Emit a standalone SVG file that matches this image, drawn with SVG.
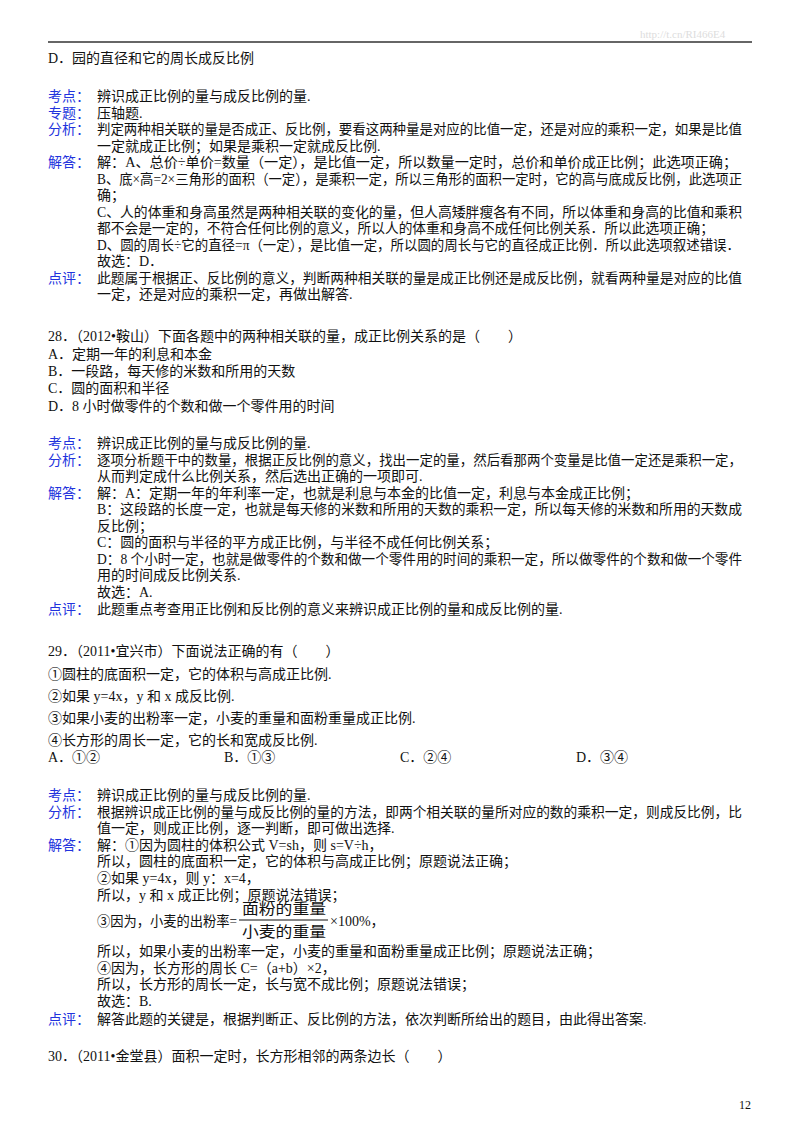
<svg xmlns="http://www.w3.org/2000/svg" width="800" height="1132" viewBox="0 0 800 1132">
<style>
text{font-family:"Liberation Serif","Noto Sans CJK SC",serif;font-size:14px;fill:#111}
.l{fill:#2233dd}
.wm{fill:#ddd;font-size:11px}
</style>
<rect width="800" height="1132" fill="#fff"/>
<text class="wm" x="640" y="38">http://t.cn/RI466E4</text>
<line x1="48" y1="42" x2="752" y2="42" stroke="#333" stroke-width="1.5"/>
<g id="q27">
<text x="48" y="63">D．园的直径和它的周长成反比例</text>
<text class="l" x="48" y="101">考点：</text><text x="97" y="101">辨识成正比例的量与成反比例的量.</text>
<text class="l" x="48" y="118">专题：</text><text x="97" y="118">压轴题.</text>
<text class="l" x="48" y="134">分析：</text><text x="97" y="134" textLength="645" lengthAdjust="spacingAndGlyphs">判定两种相关联的量是否成正、反比例，要看这两种量是对应的比值一定，还是对应的乘积一定，如果是比值</text>
<text x="97" y="151">一定就成正比例；如果是乘积一定就成反比例.</text>
<text class="l" x="48" y="167">解答：</text><text x="97" y="167" textLength="640" lengthAdjust="spacingAndGlyphs">解：A、总价÷单价=数量（一定），是比值一定，所以数量一定时，总价和单价成正比例；此选项正确；</text>
<text x="97" y="184" textLength="645" lengthAdjust="spacingAndGlyphs">B、底×高=2×三角形的面积（一定），是乘积一定，所以三角形的面积一定时，它的高与底成反比例，此选项正</text>
<text x="97" y="200">确；</text>
<text x="97" y="217" textLength="645" lengthAdjust="spacingAndGlyphs">C、人的体重和身高虽然是两种相关联的变化的量，但人高矮胖瘦各有不同，所以体重和身高的比值和乘积</text>
<text x="97" y="233" textLength="617" lengthAdjust="spacingAndGlyphs">都不会是一定的，不符合任何比例的意义，所以人的体重和身高不成任何比例关系．所以此选项正确；</text>
<text x="97" y="250" textLength="643" lengthAdjust="spacingAndGlyphs">D、圆的周长÷它的直径=π（一定），是比值一定，所以圆的周长与它的直径成正比例．所以此选项叙述错误．</text>
<text x="97" y="266">故选：D．</text>
<text class="l" x="48" y="283">点评：</text><text x="97" y="283" textLength="645" lengthAdjust="spacingAndGlyphs">此题属于根据正、反比例的意义，判断两种相关联的量是成正比例还是成反比例，就看两种量是对应的比值</text>
<text x="97" y="299">一定，还是对应的乘积一定，再做出解答.</text>
</g>
<g id="q28">
<text x="48" y="341">28．（2012•鞍山）下面各题中的两种相关联的量，成正比例关系的是（　　）</text>
<text x="48" y="359">A．定期一年的利息和本金</text>
<text x="48" y="376">B．一段路，每天修的米数和所用的天数</text>
<text x="48" y="393">C．圆的面积和半径</text>
<text x="48" y="411">D．8 小时做零件的个数和做一个零件用的时间</text>
<text class="l" x="48" y="448">考点：</text><text x="97" y="448">辨识成正比例的量与成反比例的量.</text>
<text class="l" x="48" y="465">分析：</text><text x="97" y="465" textLength="645" lengthAdjust="spacingAndGlyphs">逐项分析题干中的数量，根据正反比例的意义，找出一定的量，然后看那两个变量是比值一定还是乘积一定，</text>
<text x="97" y="481">从而判定成什么比例关系，然后选出正确的一项即可.</text>
<text class="l" x="48" y="498">解答：</text><text x="97" y="498">解：A：定期一年的年利率一定，也就是利息与本金的比值一定，利息与本金成正比例；</text>
<text x="97" y="514" textLength="645" lengthAdjust="spacingAndGlyphs">B：这段路的长度一定，也就是每天修的米数和所用的天数的乘积一定，所以每天修的米数和所用的天数成</text>
<text x="97" y="531">反比例；</text>
<text x="97" y="547">C：圆的面积与半径的平方成正比例，与半径不成任何比例关系；</text>
<text x="97" y="564" textLength="645" lengthAdjust="spacingAndGlyphs">D：8 个小时一定，也就是做零件的个数和做一个零件用的时间的乘积一定，所以做零件的个数和做一个零件</text>
<text x="97" y="580">用的时间成反比例关系.</text>
<text x="97" y="597">故选：A.</text>
<text class="l" x="48" y="614">点评：</text><text x="97" y="614">此题重点考查用正比例和反比例的意义来辨识成正比例的量和成反比例的量.</text>
</g>
<g id="q29">
<text x="48" y="656">29．（2011•宜兴市）下面说法正确的有（　　）</text>
<text x="48" y="679">①圆柱的底面积一定，它的体积与高成正比例.</text>
<text x="48" y="701">②如果 y=4x，y 和 x 成反比例.</text>
<text x="48" y="723">③如果小麦的出粉率一定，小麦的重量和面粉重量成正比例.</text>
<text x="48" y="745">④长方形的周长一定，它的长和宽成反比例.</text>
<text x="48" y="762">A．①②</text><text x="224" y="762">B．①③</text><text x="400" y="762">C．②④</text><text x="576" y="762">D．③④</text>
<text class="l" x="48" y="800">考点：</text><text x="97" y="800">辨识成正比例的量与成反比例的量.</text>
<text class="l" x="48" y="817">分析：</text><text x="97" y="817" textLength="645" lengthAdjust="spacingAndGlyphs">根据辨识成正比例的量与成反比例的量的方法，即两个相关联的量所对应的数的乘积一定，则成反比例，比</text>
<text x="97" y="833">值一定，则成正比例，逐一判断，即可做出选择.</text>
<text class="l" x="48" y="850">解答：</text><text x="97" y="850">解：①因为圆柱的体积公式 V=sh，则 s=V÷h，</text>
<text x="97" y="866">所以，圆柱的底面积一定，它的体积与高成正比例；原题说法正确；</text>
<text x="97" y="883">②如果 y=4x，则 y：x=4，</text>
<text x="97" y="900">所以，y 和 x 成正比例；原题说法错误；</text>
<text x="97" y="926" textLength="140" lengthAdjust="spacingAndGlyphs">③因为，小麦的出粉率=</text>
<text x="242" y="914" style="font-size:15px" textLength="84" lengthAdjust="spacingAndGlyphs">面粉的重量</text>
<line x1="239" y1="920" x2="328" y2="920" stroke="#111" stroke-width="1"/>
<text x="242" y="937" style="font-size:15px" textLength="84" lengthAdjust="spacingAndGlyphs">小麦的重量</text>
<text x="330" y="926">×100%，</text>
<text x="97" y="956">所以，如果小麦的出粉率一定，小麦的重量和面粉重量成正比例；原题说法正确；</text>
<text x="97" y="973">④因为，长方形的周长 C=（a+b）×2，</text>
<text x="97" y="989">所以，长方形的周长一定，长与宽不成比例；原题说法错误；</text>
<text x="97" y="1006">故选：B.</text>
<text class="l" x="48" y="1024">点评：</text><text x="97" y="1024">解答此题的关键是，根据判断正、反比例的方法，依次判断所给出的题目，由此得出答案.</text>
</g>
<g id="q30">
<text x="48" y="1061">30．（2011•金堂县）面积一定时，长方形相邻的两条边长（　　）</text>
</g>
<text x="739" y="1109" style="font-size:12px">12</text>
</svg>
